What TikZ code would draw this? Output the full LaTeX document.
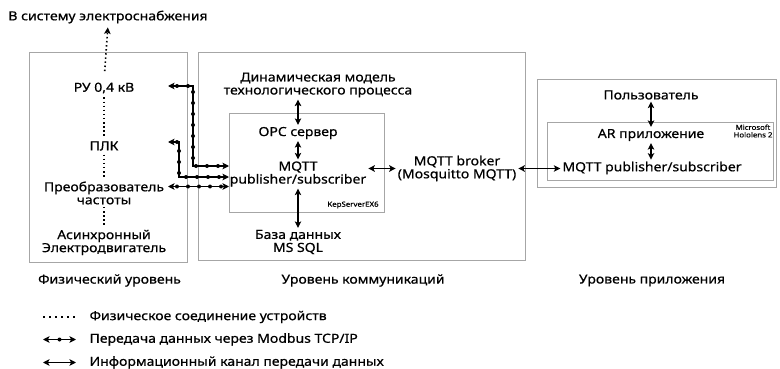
\documentclass[tikz,border=0pt]{standalone}
\usepackage{fontspec}
\setmainfont{Noto Sans}[FakeStretch=1.12, FakeBold=0.6]
\usetikzlibrary{arrows.meta, decorations.markings}

\begin{document}
\begin{tikzpicture}[x=1pt, y=-1pt, font=\fontsize{12.5}{13}\selectfont, line width=1.2pt, >={Stealth[length=6.5pt, width=6.5pt, inset=1.5pt]},
  frame/.style={draw=black!35, line width=0.9pt, inner sep=0pt, outer sep=0pt},
  lbl/.style={align=center, inner sep=1pt},
  tiny/.style={align=center, inner sep=0pt, font=\fontsize{7}{7.5}\selectfont},
  phys/.style={dash pattern=on 1.5pt off 2.6pt, line width=1.6pt, shorten <=2.5pt, shorten >=2.5pt},
  info/.style={<->, shorten <=0.5pt, shorten >=0.5pt},
  modbus/.style={<->, postaction={decorate, decoration={markings, mark=between positions #1 step 11pt with {\fill circle (2pt);}}}},
  modbus/.default={9pt and 0.93}]
  \useasboundingbox (0,0) rectangle (780,369);
  \node[frame, minimum width=158pt, minimum height=210pt] (physbox) at (108,157) {};
  \node[frame, minimum width=327pt, minimum height=208pt] (commbox) at (361.5,156) {};
  \node[frame, minimum width=239pt, minimum height=108pt] (appbox) at (656.5,133) {};
  \node[frame, minimum width=155pt, minimum height=99pt] (kep) at (306.5,162.5) {};
  \node[frame, minimum width=226pt, minimum height=58pt] (holo) at (660,151) {};
  \node[lbl] (supply) at (108,17) {В систему электроснабжения};
  \node[lbl] (ru) at (104,88) {РУ 0,4 кВ};
  \node[lbl] (plc) at (104,146) {ПЛК};
  \node[lbl] (fc) at (104,193) {Преобразователь\\частоты};
  \node[lbl] (motor) at (104,242.5) {Асинхронный\\Электродвигатель};
  \node[lbl] (model) at (318,85) {Динамическая модель\\технологического процесса};
  \node[lbl] (opc) at (298,133) {OPC сервер};
  \node[lbl] (mqtt) at (298,174) {MQTT\\publisher/subscriber};
  \node[tiny] (kepname) at (353,205) {KepServerEX6};
  \node[lbl] (db) at (298,242) {База данных\\MS SQL};
  \node[lbl] (broker) at (457,168.5) {MQTT broker\\(Mosquitto MQTT)};
  \node[lbl] (user) at (651,95) {Пользователь};
  \node[lbl] (ar) at (651,135) {AR приложение};
  \node[tiny] (device) at (753,131) {Microsoft\\Hololens 2};
  \node[lbl] (appmqtt) at (652,168) {MQTT publisher/subscriber};
  \node[lbl] (physlevel) at (109.5,280.5) {Физический уровень};
  \node[lbl] (commlevel) at (363,280.5) {Уровень коммуникаций};
  \node[lbl] (applevel) at (652,280.5) {Уровень приложения};
  \draw[phys, ->, shorten <=10pt] (ru.north) -- (supply.south);
  \draw[phys] (ru) -- (plc);
  \draw[phys] (plc) -- (fc);
  \draw[phys, shorten <=1pt, shorten >=1pt] (fc) -- (motor);
  \coordinate (bus) at (168,0);
  \coordinate (c1) at (193,0);
  \coordinate (c2) at (179,0);
  \coordinate (k1) at ([yshift=-3.5pt]kep.west);
  \coordinate (k2) at ([yshift=-14.5pt]kep.west);
  \coordinate (k3) at ([yshift=-24pt]kep.west);
  \draw[modbus] ([yshift=2pt]ru.center -| bus) -| (c1 |- k1) -- (k1);
  \draw[modbus] ([yshift=4pt]plc.center -| bus) -| (c2 |- k2) -- (k2);
  \draw[modbus] (k3 -| bus) -- (k3);
  \draw[info] (opc |- model.south) -- (opc);
  \draw[info] (opc) -- (mqtt);
  \draw[info] (mqtt) -- (db);
  \draw[info] (mqtt.east |- broker) -- (broker.west);
  \draw[info] (broker.east) -- (appmqtt.west |- broker);
  \draw[info] (user) -- (ar);
  \draw[info] (ar) -- (ar |- appmqtt.north);
  \node[lbl, anchor=west] (lg1) at (88,317) {Физическое соединение устройств};
  \node[lbl, anchor=west] (lg2) at (88,339.5) {Передача данных через Modbus TCP/IP};
  \node[lbl, anchor=west] (lg3) at (88,362.5) {Информационный канал передачи данных};
  \draw[phys, shorten <=0pt, shorten >=0pt, dash pattern=on 1.5pt off 4.5pt] ([xshift=-45pt]lg1.west) -- ([xshift=-12pt]lg1.west);
  \draw[modbus={0.5 and 0.6}] ([xshift=-45pt]lg2.west) -- ([xshift=-12pt]lg2.west);
  \draw[<->] ([xshift=-45pt]lg3.west) -- ([xshift=-12pt]lg3.west);
\end{tikzpicture}
\end{document}
